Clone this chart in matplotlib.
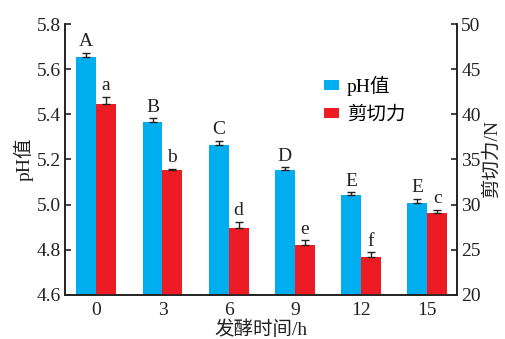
import numpy as np
import matplotlib.pyplot as plt

plt.rcParams['font.family'] = ['Liberation Serif', 'Noto Sans CJK SC']
plt.rcParams['font.size'] = 13

# 发酵时间 / pH / 剪切力
times = ['0', '3', '6', '9', '12', '15']
ph = [5.654, 5.366, 5.264, 5.153, 5.043, 5.007]
ph_err = [0.019, 0.016, 0.018, 0.012, 0.012, 0.02]
shear = [41.2, 33.8, 27.4, 25.5, 24.2, 29.1]
shear_err = [0.73, 0.15, 0.66, 0.55, 0.5, 0.3]
ph_sig = ['A', 'B', 'C', 'D', 'E', 'E']
shear_sig = ['a', 'b', 'd', 'e', 'f', 'c']

blue = '#00aeef'
red = '#ed1c24'
ink = '#222222'

x = np.arange(len(times))
w = 0.3

fig = plt.figure(figsize=(5.05, 3.39), dpi=100)
ax = fig.add_axes([0.129, 0.13, 0.776, 0.799])
ax2 = ax.twinx()

ax.bar(x - w/2, ph, w, color=blue, label='pH值', zorder=2)
ax.errorbar(x - w/2, ph, yerr=[np.zeros(len(ph)), ph_err], fmt='none',
            ecolor=ink, elinewidth=1, capsize=2.6, capthick=1, zorder=3)
ax2.bar(x + w/2, shear, w, color=red, label='剪切力', zorder=2)
ax2.errorbar(x + w/2, shear, yerr=[np.zeros(len(shear)), shear_err], fmt='none',
             ecolor=ink, elinewidth=1, capsize=2.6, capthick=1, zorder=3)

# 显著性字母
for i in range(len(x)):
    ax.text(x[i] - w/2, ph[i] + ph_err[i] + 0.012, ph_sig[i],
            ha='center', va='bottom', fontsize=14, color=ink)
    ax2.text(x[i] + w/2, shear[i] + shear_err[i] + 0.3, shear_sig[i],
             ha='center', va='bottom', fontsize=14, color=ink)

ax.set_ylim(4.6, 5.8)
ax.set_yticks(np.arange(4.6, 5.81, 0.2))
ax.set_yticklabels(['%.1f' % v for v in np.arange(4.6, 5.81, 0.2)])
ax2.set_ylim(20, 50)
ax2.set_yticks(range(20, 51, 5))
ax.set_xlim(-0.47, 5.45)
ax.set_xticks(x)
ax.set_xticklabels(times)

ax.set_xlabel('发酵时间/h', fontsize=14, color=ink, labelpad=1)
ax.set_ylabel('pH值', fontsize=14, color=ink, labelpad=2)
ax2.set_ylabel('剪切力/N', fontsize=14, color=ink, labelpad=2)

for a in (ax, ax2):
    a.spines['top'].set_visible(False)
    for s in a.spines.values():
        s.set_linewidth(1.2)
        s.set_color(ink)
    a.tick_params(axis='y', direction='in', length=4, width=1.2, labelsize=14,
                  colors=ink, pad=3)
ax.tick_params(axis='x', length=0, labelsize=14, colors=ink, pad=5)

h1, l1 = ax.get_legend_handles_labels()
h2, l2 = ax2.get_legend_handles_labels()
ax.legend(h1 + h2, l1 + l2, loc='upper left', bbox_to_anchor=(0.66, 0.81),
          frameon=False, fontsize=14, handlelength=0.8, handleheight=0.45,
          handletextpad=0.4, labelspacing=0.55, borderpad=0, borderaxespad=0)

fig.savefig('out.png', dpi=100)
